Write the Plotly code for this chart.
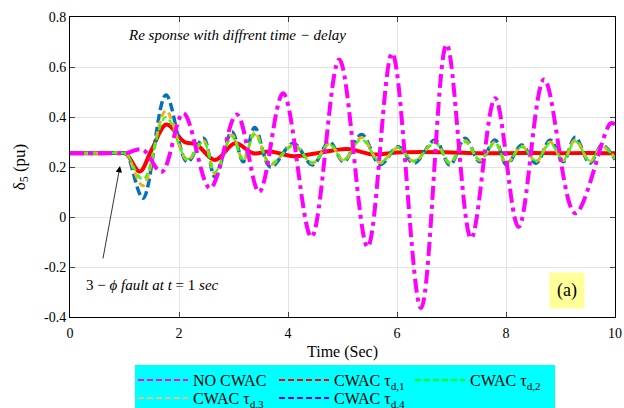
import plotly.graph_objects as go

# ---------------- data ----------------
t_no = [0, 0.5, 1.0, 1.05, 1.33, 1.68, 2.08, 2.57, 3.06, 3.47, 3.91, 4.43, 4.94, 5.46,
        5.91, 6.44, 6.91, 7.36, 7.80, 8.23, 8.70, 9.27, 9.92, 10.0]
v_no = [0.255, 0.255, 0.255, 0.256, 0.27, 0.18, 0.415, 0.115, 0.41, 0.10, 0.495, -0.08,
        0.63, -0.12, 0.655, -0.365, 0.69, -0.085, 0.475, -0.04, 0.55, 0.015, 0.375, 0.37]

t_d1 = [0, 0.5, 1.0, 1.05, 1.28, 1.5, 1.77, 2.1, 2.32, 2.66, 3.03, 3.36, 3.67, 4.10, 4.53,
        5.08, 5.57, 6.0, 6.5, 7.0, 7.5, 8.0, 8.5, 9.0, 9.5, 10.0]
v_d1 = [0.255, 0.255, 0.255, 0.25, 0.182, 0.27, 0.37, 0.30, 0.29, 0.228, 0.295, 0.255,
        0.262, 0.243, 0.255, 0.272, 0.25, 0.258, 0.26, 0.258, 0.255, 0.255, 0.256, 0.255,
        0.256, 0.255]

t_osc = [0, 0.5, 1.0, 1.05, 1.34, 1.76, 2.15, 2.45, 2.66, 2.97, 3.18, 3.39, 3.68, 4.10,
         4.45, 4.76, 5.02, 5.35, 5.69, 6.02, 6.31, 6.70, 6.97, 7.25, 7.52, 7.80, 8.01,
         8.29, 8.55, 8.81, 9.05, 9.27, 9.54, 9.76, 10.0]
v_d2 = [0.255, 0.255, 0.255, 0.25, 0.15, 0.40, 0.232, 0.30, 0.18, 0.32, 0.23, 0.33, 0.215,
        0.285, 0.218, 0.29, 0.229, 0.31, 0.22, 0.276, 0.225, 0.295, 0.218, 0.30, 0.229,
        0.295, 0.218, 0.28, 0.225, 0.295, 0.229, 0.303, 0.225, 0.28, 0.237]
v_d3 = [0.255, 0.255, 0.255, 0.25, 0.125, 0.425, 0.228, 0.305, 0.172, 0.328, 0.226, 0.338,
        0.21, 0.288, 0.215, 0.293, 0.226, 0.318, 0.217, 0.278, 0.222, 0.300, 0.215, 0.305,
        0.226, 0.300, 0.215, 0.283, 0.222, 0.300, 0.226, 0.308, 0.222, 0.283, 0.235]
v_d4 = [0.255, 0.255, 0.255, 0.25, 0.075, 0.488, 0.22, 0.315, 0.16, 0.341, 0.221, 0.358,
        0.20, 0.295, 0.208, 0.301, 0.221, 0.33, 0.21, 0.281, 0.215, 0.308, 0.208, 0.315,
        0.221, 0.308, 0.208, 0.288, 0.215, 0.308, 0.221, 0.319, 0.215, 0.288, 0.23]

legend_names = ["NO CWAC", "CWAC τ<sub>d,1</sub>", "CWAC τ<sub>d,2</sub>",
                "CWAC τ<sub>d,3</sub>", "CWAC τ<sub>d,4</sub>"]
x_ticks = [0, 2, 4, 6, 8, 10]
y_ticks = [-0.4, -0.2, 0, 0.2, 0.4, 0.6, 0.8]
y_tick_labels = ["-0.4", "-0.2", "0", "0.2", "0.4", "0.6", "0.8"]

SERIF = "Liberation Serif"

fig = go.Figure()

# plotted curves (red beneath, magenta on top)
fig.add_trace(go.Scatter(x=t_d1, y=v_d1, mode="lines", line_shape="spline",
                         line=dict(color="#FF0000", width=4), showlegend=False))
fig.add_trace(go.Scatter(x=t_osc, y=v_d4, mode="lines", line_shape="spline",
                         line=dict(color="#0072BD", width=3.5, dash="9px,4px"), showlegend=False))
fig.add_trace(go.Scatter(x=t_osc, y=v_d3, mode="lines", line_shape="spline",
                         line=dict(color="#EDB120", width=3, dash="7px,4px"), showlegend=False))
fig.add_trace(go.Scatter(x=t_osc, y=v_d2, mode="lines", line_shape="spline",
                         line=dict(color="#33FF00", width=2.2, dash="6px,4px"), showlegend=False))
fig.add_trace(go.Scatter(x=t_no, y=v_no, mode="lines", line_shape="spline",
                         line=dict(color="#FF00FF", width=4, dash="14px,5px,4px,5px"),
                         showlegend=False))

# legend entries (thin dashed samples as in the reference), two rows
leg_colors = ["#FF00FF", "#FF0000", "#00FF00", "#D9C08C", "#0000FF"]
leg_rows = ["legend", "legend", "legend", "legend2", "legend2"]
leg_widths = [76, 71, 80, 76, 80]
for name, col, lg, lw in zip(legend_names, leg_colors, leg_rows, leg_widths):
    fig.add_trace(go.Scatter(x=[None], y=[None], mode="lines", name=name, legend=lg,
                             legendwidth=lw,
                             line=dict(color=col, width=2, dash="6px,3px")))

# cyan legend box
fig.add_shape(type="rect", xref="paper", yref="paper",
              x0=(135 - 70) / 545, x1=(555 - 70) / 545,
              y0=-(409 - 317) / 300, y1=-(365 - 317) / 300,
              fillcolor="#00FFFF", line=dict(width=0), layer="below")

leg_common = dict(orientation="h", xanchor="left", yanchor="middle",
                  bgcolor="rgba(0,0,0,0)", font=dict(family=SERIF, size=16),
                  entrywidthmode="pixels", traceorder="normal", tracegroupgap=0,
                  itemwidth=50)

fig.update_layout(
    width=624, height=408,
    margin=dict(l=70, r=9, t=17, b=91, autoexpand=False),
    paper_bgcolor="white", plot_bgcolor="white",
    font=dict(family=SERIF, size=14, color="black"),
    showlegend=True,
    legend=dict(x=(133 - 70) / 545, y=-(380 - 317) / 300, **leg_common),
    legend2=dict(x=(133 - 70) / 545, y=-(398 - 317) / 300, **leg_common),
    xaxis=dict(range=[0, 10], tickvals=x_ticks, ticks="inside", ticklen=5,
               showline=True, linecolor="black", linewidth=1, mirror="ticks",
               showgrid=True, gridcolor="#E3E3E3", gridwidth=1, zeroline=False,
               tickfont=dict(size=14), ticklabelstandoff=3,
               title=dict(text="Time (Sec)", font=dict(size=16), standoff=6)),
    yaxis=dict(range=[-0.4, 0.8], tickvals=y_ticks, ticktext=y_tick_labels,
               ticks="inside", ticklen=5,
               showline=True, linecolor="black", linewidth=1, mirror="ticks",
               showgrid=True, gridcolor="#E3E3E3", gridwidth=1, zeroline=False,
               tickfont=dict(size=14),
               title=dict(text="δ<sub>5</sub> (pu)", font=dict(size=17), standoff=14)),
)

fig.add_annotation(x=3.07, y=0.728, xref="x", yref="y", showarrow=False,
                   text="<i>Re sponse with diffrent time − delay</i>",
                   font=dict(family=SERIF, size=15))
fig.add_annotation(x=1.51, y=-0.272, xref="x", yref="y", showarrow=False,
                   text="3 − <i>ϕ fault at t</i> = 1 <i>sec</i>",
                   font=dict(family=SERIF, size=15))
fig.add_annotation(x=0.917, y=0.204, xref="x", yref="y", text="",
                   showarrow=True, ax=0.6, ay=-0.172, axref="x", ayref="y",
                   arrowhead=2, arrowsize=1.6, arrowwidth=0.8, arrowcolor="black")
fig.add_annotation(x=9.12, y=-0.292, xref="x", yref="y", showarrow=False,
                   text="(a)", bgcolor="#FFFF99", borderpad=7,
                   font=dict(family=SERIF, size=18))

fig.write_html("out.html")
